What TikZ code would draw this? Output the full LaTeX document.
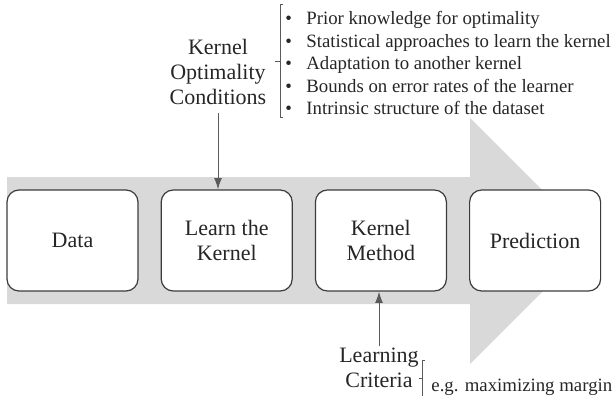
\documentclass[tikz,border=0pt]{standalone}
\usepackage{fontspec}
\setmainfont{Liberation Serif}
\usetikzlibrary{arrows.meta,positioning,calc}
\definecolor{bandgray}{HTML}{D9D9D9}
\definecolor{edgegray}{HTML}{3C3C3C}
\definecolor{argray}{HTML}{5A5A5A}

\begin{document}
\begin{tikzpicture}[
  x=0.5pt,y=-0.5pt,
  font=\fontsize{11}{12.5}\selectfont,
  text=black!85,
  bx/.style ={draw=edgegray,rounded corners=6pt,align=center,line width=0.6pt,fill=white,
              minimum width=65.5pt,minimum height=50.5pt,inner sep=2pt},
  lb/.style ={align=center,inner sep=1pt},
  sm/.style ={font=\fontsize{9.4}{11.25}\selectfont,inner sep=0pt},
  ar/.style ={-{Latex[length=2mm,width=1.4mm]},line width=0.5pt,draw=argray},
  br/.style ={line width=0.5pt,draw=argray}
]
\useasboundingbox (0,0) rectangle (613,395);

% ======== big gray arrow (drawn first, behind the boxes)
\fill[bandgray] (7,177) -- (470,177) -- (470,118) -- (593,241) -- (470,364)
  -- (470,304) -- (7,304) -- cycle;

% ======== stages
\node[bx] (data) at (72.5,240.5) {Data};
\node[bx,right=11pt of data]  (learn) {Learn the\\Kernel};
\node[bx,right=11pt of learn] (kmeth) {Kernel\\Method};
\node[bx,right=11pt of kmeth] (pred)  {Prediction};

% ======== optimality conditions (top)
\node[lb] (koc) at (218,72) {Kernel\\Optimality\\Conditions};
\node[sm,anchor=west,align=left] (lst) at (285,63)
  {\makebox[10.5pt][l]{\textbullet}Prior knowledge for optimality\\
   \makebox[10.5pt][l]{\textbullet}Statistical approaches to learn the kernel\\
   \makebox[10.5pt][l]{\textbullet}Adaptation to another kernel\\
   \makebox[10.5pt][l]{\textbullet}Bounds on error rates of the learner\\
   \makebox[10.5pt][l]{\textbullet}Intrinsic structure of the dataset};
\draw[br] ($(lst.west)+(-2,-58)$) -| ($(lst.west)+(-5,55)$) -- ++(3,0);
\draw[br] ($(lst.west)+(-5,-1)$) -- ++(-5,0);
\draw[ar,shorten <=3pt] (koc.south) -- (koc.south |- learn.north);

% ======== learning criteria (bottom)
\node[lb] (lc) at (379,368) {Learning\\Criteria};
\node[sm,anchor=west] (eg) at (431,387) {e.g. maximizing margin};
\draw[br] ($(eg.west)+(-6,-27)$) -| ($(eg.west)+(-9,13)$);
\draw[br] ($(eg.west)+(-9,-9)$) -- ++(-3,0);
\draw[ar] (lc.north) -- (lc.north |- kmeth.south);
\end{tikzpicture}
\end{document}
